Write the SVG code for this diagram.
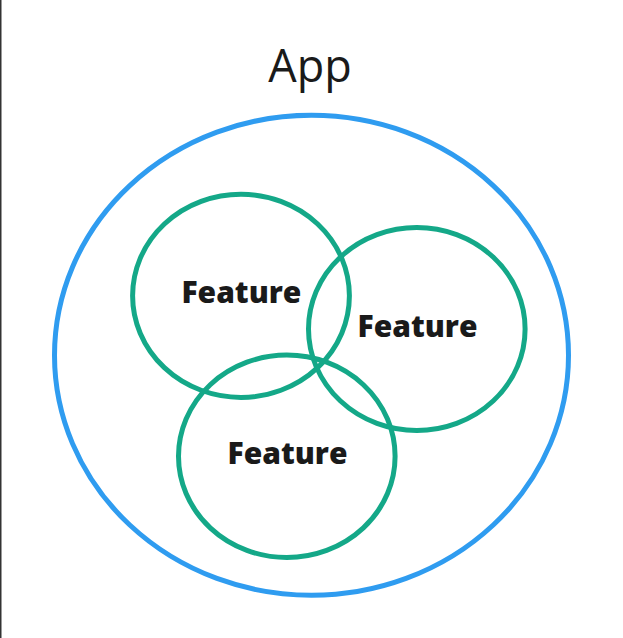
<svg xmlns="http://www.w3.org/2000/svg" width="623" height="638" viewBox="0 0 623 638">
<style>
.app{fill:none;stroke:#2f9cf0;stroke-width:5}
.feat{fill:none;stroke:#14a888;stroke-width:5}
.lbl{font-family:"Open Sans","Noto Sans",sans-serif;font-weight:800;font-size:30px;fill:#1a1a1a;text-anchor:middle}
.title{font-family:"Open Sans","Noto Sans",sans-serif;font-size:45px;fill:#1a1a1a;text-anchor:middle}
</style>
<rect width="623" height="638" fill="#fff"/>
<rect x="0" y="0" width="1.5" height="638" fill="#333"/>
<g id="app">
<ellipse class="app" cx="311.5" cy="355.3" rx="257" ry="240"/>
<text class="title" x="310" y="82">App</text>
</g>
<g id="feature1">
<ellipse class="feat" cx="241" cy="295.8" rx="108.4" ry="101.6"/>
<text class="lbl" x="241.4" y="303.3">Feature</text>
</g>
<g id="feature2">
<ellipse class="feat" cx="416.8" cy="329" rx="108.3" ry="101.5"/>
<text class="lbl" x="417.5" y="337.3">Feature</text>
</g>
<g id="feature3">
<ellipse class="feat" cx="286.8" cy="456.3" rx="108.3" ry="101.2"/>
<text class="lbl" x="287.5" y="464.3">Feature</text>
</g>
<g id="connectors"/>
</svg>
